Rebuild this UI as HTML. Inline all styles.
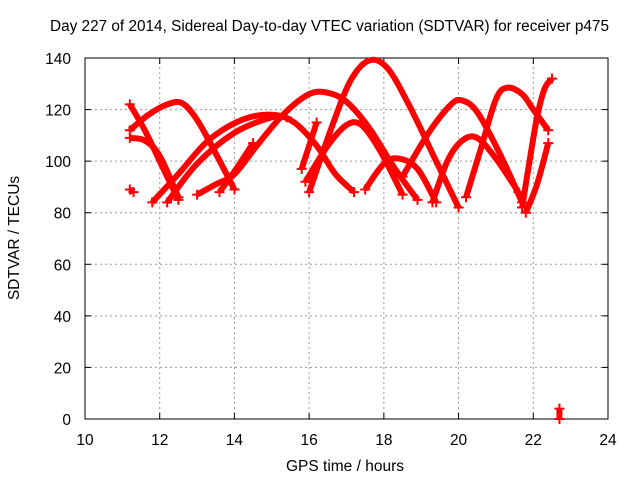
<!DOCTYPE html>
<html><head><meta charset="utf-8"><style>
body{margin:0;background:#fff}
svg{display:block;font-family:"Liberation Sans",sans-serif;font-size:15.5px}
</style></head><body>
<svg width="640" height="480">
<g id="grid"></g>
<g id="axes"></g>
<g id="series"></g>
<text x="50" y="31" textLength="559" lengthAdjust="spacingAndGlyphs">Day 227 of 2014, Sidereal Day-to-day VTEC variation (SDTVAR) for receiver p475</text>
<text x="345" y="471" text-anchor="middle">GPS time / hours</text>
<text transform="translate(19,238) rotate(-90)" text-anchor="middle">SDTVAR / TECUs</text>
</svg>
<script>
const xTicks=[10,12,14,16,18,20,22,24];
const yTicks=[0,20,40,60,80,100,120,140];
const arcs=[
[[11.2,122],[11.6,112],[12.0,100],[12.5,85]],
[[11.2,112],[11.7,118],[12.2,122],[12.6,122.5],[13.0,116],[13.5,103],[14.0,89]],
[[11.2,109],[11.6,108],[12.0,102],[12.5,86]],
[[11.2,89],[11.3,88]],
[[11.8,84],[12.5,95],[13.3,108],[14.2,116],[15.0,118],[15.6,115],[16.2,106],[16.7,95],[17.2,88]],
[[12.2,84],[13.0,99],[14.0,111],[15.0,117],[15.4,117]],
[[13.0,87],[13.5,91],[14.0,95],[14.6,106],[15.3,118],[16.0,126],[16.5,126.5],[17.0,123],[17.6,113],[18.3,97],[18.9,85]],
[[13.6,88],[14.0,96],[14.5,107]],
[[15.8,97],[16.2,115]],
[[15.9,92],[16.5,106],[17.0,114],[17.4,114],[17.9,104],[18.5,87]],
[[16.0,88],[16.6,113],[17.1,131],[17.6,139],[18.1,136],[18.7,121],[19.3,103],[20.0,82]],
[[17.5,89],[18.0,99],[18.4,101],[18.9,97],[19.4,84]],
[[18.5,94],[19.2,111],[19.8,122],[20.1,123.5],[20.5,119],[21.1,103],[21.7,84]],
[[19.3,84],[19.7,100],[20.1,108],[20.5,109],[21.0,101],[21.6,88]],
[[20.2,86],[20.6,105],[21.0,124],[21.3,128.5],[21.7,126],[22.0,120],[22.4,112]],
[[21.7,82],[21.9,100],[22.1,117],[22.3,128],[22.5,132]],
[[21.8,80],[22.1,91],[22.4,107]],
[[22.7,0],[22.7,4]]
];
const x0=85,x1=608,y0=419,y1=58;
const X=v=>x0+(v-10)/14*(x1-x0);
const Y=v=>y0-(v/140)*(y0-y1);
const NS="http://www.w3.org/2000/svg";
const grid=document.getElementById('grid'),axes=document.getElementById('axes'),ser=document.getElementById('series');
function mk(t,a,p){const e=document.createElementNS(NS,t);for(const k in a)e.setAttribute(k,a[k]);p.appendChild(e);return e;}
xTicks.forEach(t=>{
 const x=X(t);
 if(t>10&&t<24){const g=mk('line',{x1:x,x2:x,y1:y0,y2:y1,stroke:'#999','stroke-dasharray':'2,3'},grid);
 
 }
 mk('line',{x1:x,x2:x,y1:y0,y2:y0-6,stroke:'#000'},axes);
 mk('line',{x1:x,x2:x,y1:y1,y2:y1+6,stroke:'#000'},axes);
 const l=mk('text',{x:x,y:y0+26,'text-anchor':'middle'},axes);l.textContent=t;
 
 
});
yTicks.forEach(t=>{
 const y=Y(t);
 if(t>0&&t<140){const g=mk('line',{x1:x0,x2:x1,y1:y,y2:y,stroke:'#999','stroke-dasharray':'2,3'},grid);
 
 }
 mk('line',{x1:x0,x2:x0+6,y1:y,y2:y,stroke:'#000'},axes);
 mk('line',{x1:x1,x2:x1-6,y1:y,y2:y,stroke:'#000'},axes);
 const l=mk('text',{x:x0-14,y:y+6,'text-anchor':'end'},axes);l.textContent=t;
 
 
});
mk('rect',{x:x0,y:y1,width:x1-x0,height:y0-y1,fill:'none',stroke:'#000'},axes);
function smooth(pts){
 let d=`M${pts[0][0]},${pts[0][1]}`;
 for(let i=0;i<pts.length-1;i++){
  const p0=pts[i-1]||pts[i],p1=pts[i],p2=pts[i+1],p3=pts[i+2]||p2;
  const c1=[p1[0]+(p2[0]-p0[0])/6,p1[1]+(p2[1]-p0[1])/6];
  const c2=[p2[0]-(p3[0]-p1[0])/6,p2[1]-(p3[1]-p1[1])/6];
  d+=`C${c1[0]},${c1[1]} ${c2[0]},${c2[1]} ${p2[0]},${p2[1]}`;
 }
 return d;
}
arcs.forEach((a,i)=>{
 const pts=a.map(d=>[X(d[0]),Y(d[1])]);
 const p=mk('path',{d:smooth(pts),fill:'none',stroke:'#f00','stroke-width':6,'stroke-linejoin':'round'},ser);
 
 
 [pts[0],pts[pts.length-1]].forEach(q=>{
  const c=mk('path',{d:`M${q[0]-5},${q[1]}h10M${q[0]},${q[1]-5}v10`,stroke:'#f00','stroke-width':2},ser);
  
  
 });
});
</script>
</body></html>
